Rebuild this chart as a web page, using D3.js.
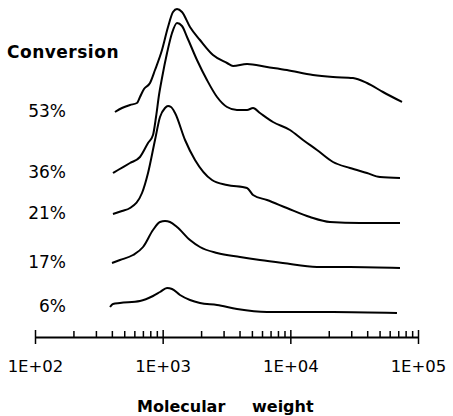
<!DOCTYPE html>
<html>
<head>
<meta charset="utf-8">
<script src="https://cdn.jsdelivr.net/npm/d3@7"></script>
<style>
body { margin: 0; background: #fff; }
svg { display: block; }
text { font-family: "DejaVu Sans", Verdana, sans-serif; fill: #000; }
</style>
</head>
<body>
<svg width="453" height="416"></svg>
<script>
// conversion labels, top to bottom
var conversions = ["53%", "36%", "21%", "17%", "6%"];
// vertical offset of each trace in the stack (same units as the signal)
var offsets = [224, 159, 114, 69, 24];

// molecular weight / detector signal for each trace
var mw53 = [423, 480, 555, 629, 664, 714, 796, 871, 988, 1101, 1205, 1295, 1417, 1637, 1960, 2479, 3193, 3557, 4578, 6565, 9400, 15040, 21590, 30960, 39850, 53170, 74920];
var sig53 = [1, 5, 8, 10, 16, 24, 30, 43, 63, 86, 101, 104, 101, 86, 73, 58, 50, 47, 49, 46, 43, 38, 36, 35, 30, 21, 11];

var mw36 = [408, 447, 555, 664, 768, 840, 887, 936, 988, 1082, 1184, 1295, 1417, 1552, 1857, 2223, 2666, 3193, 3822, 4578, 5105, 5785, 7315, 9931, 12570, 16170, 21590, 29320, 39850, 50360, 72270];
var sig36 = [5, 8, 15, 21, 35, 43, 61, 83, 100, 125, 145, 155, 152, 141, 118, 98, 81, 71, 68, 68, 70, 65, 56, 48, 38, 28, 16, 10, 5, 1, 0];

var mw21 = [408, 480, 555, 689, 768, 871, 953, 1043, 1101, 1162, 1250, 1497, 1792, 2434, 3193, 4578, 5105, 6565, 9400, 14260, 20450, 35140, 72270];
var sig21 = [9, 12, 15, 30, 50, 83, 106, 115, 117, 116, 110, 83, 63, 43, 38, 35, 28, 23, 15, 6, 1, 0, 0];

var mw17 = [401, 463, 586, 702, 840, 953, 1043, 1141, 1295, 1637, 1960, 2666, 4036, 5785, 8754, 16170, 29320, 72270];
var sig17 = [5, 8, 13, 21, 38, 46, 47, 46, 41, 28, 21, 15, 11, 8, 5, 1, 1, 0];

var mw6 = [387, 408, 463, 664, 840, 953, 1082, 1184, 1367, 1637, 1960, 2666, 3822, 6565, 11900, 21590, 68440];
var sig6 = [6, 9, 10, 12, 17, 21, 25, 24, 18, 13, 10, 8, 4, 1, 1, 1, 0];

var mws = [mw53, mw36, mw21, mw17, mw6];
var sigs = [sig53, sig36, sig21, sig17, sig6];

var majorTicks = [1e2, 1e3, 1e4, 1e5];
var minorTicks = [];
[1e2, 1e3, 1e4].forEach(function(d){
    for (var k = 2; k <= 9; k++) minorTicks.push(d * k);
});

var svg = d3.select("svg");

var x = d3.scaleLog().domain([1e2, 1e5]).range([35, 418]);
var y = d3.scaleLinear().domain([0, 330]).range([337, 7]);
var axisY = 337;

var line = d3.line()
    .x(d => x(d[0]))
    .y(d => y(d[1]))
    .curve(d3.curveMonotoneX);

conversions.forEach(function(label, i){
    var pts = mws[i].map((m, j) => [m, sigs[i][j] + offsets[i]]);
    svg.append("path")
        .datum(pts)
        .attr("fill", "none")
        .attr("stroke", "#000")
        .attr("stroke-width", 2)
        .attr("stroke-linejoin", "round")
        .attr("d", line);

    svg.append("text")
        .attr("x", 66)
        .attr("y", y(pts[0][1]) + 5)
        .attr("text-anchor", "end")
        .style("font-size", "17px")
        .text(label);
});

// minor ticks point up
svg.append("g")
    .attr("transform", `translate(0,${axisY})`)
    .call(d3.axisTop(x).tickValues(minorTicks).tickSize(6).tickSizeOuter(0).tickFormat(""))
    .call(g => g.select(".domain").remove())
    .selectAll("line").attr("stroke-width", 1.5);

// major ticks cross the axis
var major = svg.append("g")
    .attr("transform", `translate(0,${axisY})`)
    .call(d3.axisBottom(x).tickValues(majorTicks).tickSize(7).tickSizeOuter(0)
        .tickFormat(d => "1E+" + String(Math.round(Math.log10(d))).padStart(2, "0")));

major.select(".domain").attr("stroke-width", 2);
major.selectAll(".tick line").attr("y1", -7).attr("stroke-width", 1.5);
major.selectAll(".tick text")
    .attr("y", 35)
    .attr("dy", 0)
    .style("font-size", "16.5px")
    .style("font-family", "'DejaVu Sans', sans-serif")
    .attr("fill", "#000");

svg.append("text")
    .attr("x", 7)
    .attr("y", 58)
    .style("font-size", "17px")
    .style("font-weight", "bold")
    .style("letter-spacing", "0.5px")
    .text("Conversion");

svg.append("text")
    .attr("x", 137)
    .attr("y", 412)
    .style("font-size", "16px")
    .style("font-weight", "bold")
    .text("Molecular");

svg.append("text")
    .attr("x", 252)
    .attr("y", 412)
    .style("font-size", "16px")
    .style("font-weight", "bold")
    .text("weight");
</script>
</body>
</html>
